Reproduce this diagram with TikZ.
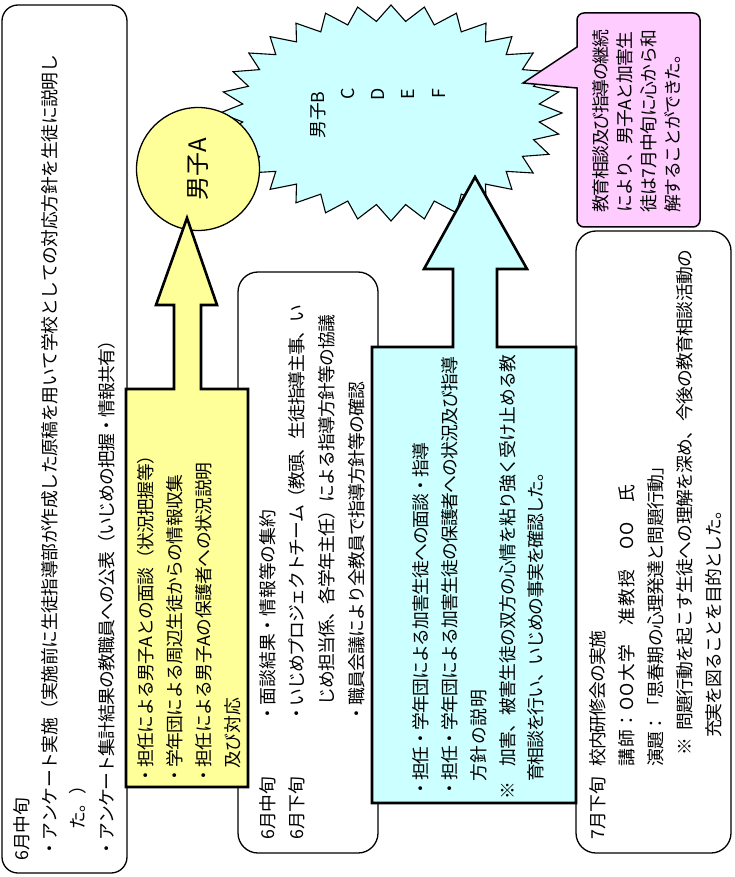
\documentclass[tikz,border=0pt]{standalone}
\usepackage{fontspec}
\newfontfamily\jp{Noto Sans CJK JP}
\definecolor{yel}{HTML}{FFFF99}
\definecolor{cya}{HTML}{CCFFFF}
\definecolor{pnk}{HTML}{FFCCFF}
\makeatletter
\def\jl@end{\jl@end}
\def\jl@loop#1{\ifx\jl@end#1\else#1\hskip 0pt plus 1fil minus 1fil\expandafter\jl@loop\fi}
\newcommand\jl[2]{\hbox to #1pt{\jl@loop#2\jl@end\unskip}}
\makeatother
\tikzset{
  jt/.style={rotate=90, anchor=west, inner sep=0pt, text=black, font=\jp\fontsize{17.8}{21}\selectfont},
  rbox/.style={draw=black, line width=1.3pt, rounded corners=#1},
  rbox/.default=18,
  blockarrow/.style={draw=black, line width=2.6pt, line join=miter, fill=#1},
}
\newcommand\jline[5]{\pgfmathsetmacro\jlL{#3-#4}\node[jt] (#1) at (#2,#3) {\jl{\jlL}{#5}};}
\newcommand\jnat[4]{\node[jt] (#1) at (#2,#3) {#4};}
\begin{document}
\begin{tikzpicture}[x=1pt,y=-1pt]
\useasboundingbox (0,0) rectangle (735,877);
\fill[white] (0,0) rectangle (735,877);
% rounded boxes
\draw[rbox=16] (2,5) rectangle (127,873);
\draw[rbox=20] (238,272) rectangle (378,853);
\draw[rbox=20] (576,231) rectangle (731,853);
% star
\foreach \i in {0,...,63}{
  \pgfmathsetmacro\sx{391+(160+11*cos(\i*180))*cos(\i*5.625)}
  \pgfmathsetmacro\sy{113+(100+8*cos(\i*180))*sin(\i*5.625)}
  \coordinate (st\i) at (\sx,\sy);
}
\draw[fill=cya, line width=1.1pt, line join=miter] (st0) \foreach \i in {1,...,63}{ -- (st\i) } -- cycle;
\node[jt] (sB) at (318,139) {男子B};
\node[jt, anchor=center] (sC) at (348,94) {C};
\node[jt, anchor=center] (sD) at (378,94) {D};
\node[jt, anchor=center] (sE) at (408,94) {E};
\node[jt, anchor=center] (sF) at (439,94) {F};
% circle
\node[circle, draw=black, line width=1.3pt, fill=yel, minimum size=123pt, inner sep=0pt, rotate=90, text=black, font=\jp\fontsize{24}{27}\selectfont] (boyA) at (198,169) {男子A};
% pink callout
\draw[fill=pnk, line width=1.5pt, line join=miter] (577,47) -- (523,83) -- (577,88) {[rounded corners=7] -- (577,227) -- (700,227) -- (700,13) -- (577,13)} -- cycle;
% yellow block arrow
\draw[blockarrow=yel] (126,389) -- (174,389) -- (174,305) -- (156,305) -- (187,218) -- (217,305) -- (201,305) -- (201,389) -- (248,389) -- (248,787) -- (126,787) -- cycle;
% cyan block arrow
\draw[blockarrow=cya] (372,347) -- (453,347) -- (453,269) -- (424,269) -- (475,177) -- (527,269) -- (497,269) -- (497,347) -- (576,347) -- (576,803) -- (372,803) -- cycle;
% box 1 text
\jnat{t1a}{22}{861}{6月中旬}
\jline{t1b}{50}{858}{55}{・アンケート実施（実施前に生徒指導部が作成した原稿を用いて学校としての対応方針を生徒に説明し}
\jnat{t1c}{78}{830}{た。）}
\jline{t1d}{107}{858}{332}{・アンケート集計結果の教職員への公表（いじめの把握・情報共有）}
% yellow text
\jline{y1}{146}{785}{447}{・担任による男子Aとの面談（状況把握等）}
\jline{y2}{175}{785}{475}{・学年団による周辺生徒からの情報収集}
\jline{y3}{204}{785}{463}{・担任による男子Aの保護者への状況説明}
\jnat{y4}{233}{769}{及び対応}
% box 2 text
\jnat{m1a}{268}{840}{6月中旬}
\jline{m1b}{268}{723}{510}{・面談結果・情報等の集約}
\jnat{m2a}{297}{840}{6月下旬}
\jline{m2b}{297}{723}{305}{・いじめプロジェクトチーム（教頭、生徒指導主事、い}
\jline{m3}{327}{706}{315}{じめ担当係、各学年主任）による指導方針等の協議}
\jline{m4}{357}{723}{382}{・職員会議により全教員で指導方針等の確認}
% cyan text
\jline{c1}{421}{798}{443}{・担任・学年団による加害生徒への面談・指導}
\jline{c2}{450}{798}{357}{・担任・学年団による加害生徒の保護者への状況及び指導}
\jline{c3}{479}{782}{690}{方針の説明}
\jnat{c4a}{508}{800}{※}
\jline{c4b}{508}{767}{355}{加害、被害生徒の双方の心情を粘り強く受け止める教}
\jline{c5}{536}{782}{464}{育相談を行い、いじめの事実を確認した。}
% pink text
\jline{p1}{601}{213}{30}{教育相談及び指導の継続}
\jline{p2}{625}{213}{32}{により、男子Aと加害生}
\jline{p3}{649}{213}{30}{徒は7月中旬に心から和}
\jline{p4}{673}{213}{46}{解することができた。}
% box 5 text
\jnat{f1a}{598}{840}{7月下旬}
\jline{f1b}{598}{767}{631}{校内研修会の実施}
\jline{f2}{627}{767}{485}{講師：OO大学　准教授　OO　氏}
\jline{f3}{656}{767}{458}{演題：「思春期の心理発達と問題行動」}
\jnat{f4a}{685}{756}{※}
\jline{f4b}{685}{731}{250}{問題行動を起こす生徒への理解を深め、今後の教育相談活動の}
\jline{f5}{714}{738}{502}{充実を図ることを目的とした。}
\end{tikzpicture}
\end{document}
